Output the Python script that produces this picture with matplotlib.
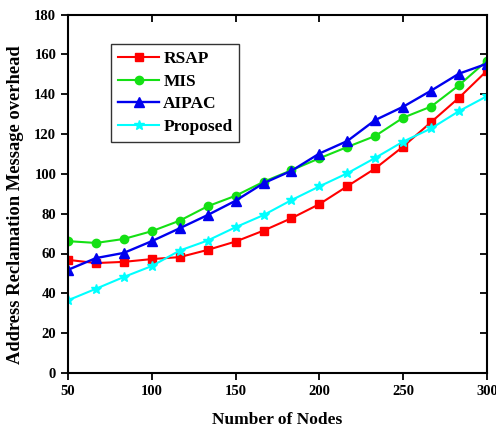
import numpy as np
import matplotlib
matplotlib.use('Agg')
import matplotlib.pyplot as plt

nodes = [50, 66.7, 83.3, 100, 116.7, 133.3, 150, 166.7, 183.3, 200, 216.7, 233.3, 250, 266.7, 283.3, 300]

rsap = [56.8, 55.2, 55.8, 57.2, 58.2, 61.8, 66.0, 71.5, 77.7, 84.8, 93.8, 102.7, 113.7, 126.0, 138.2, 151.8]
mis = [66.2, 65.3, 67.3, 71.2, 76.5, 83.7, 89.0, 96.0, 101.8, 107.8, 113.5, 119.0, 128.2, 133.8, 144.5, 156.8]
aipac = [51.8, 57.7, 60.3, 66.2, 72.7, 79.3, 86.5, 95.3, 101.5, 110.2, 116.5, 127.0, 133.7, 141.8, 150.3, 155.3]
proposed = [36.5, 42.3, 48.2, 53.7, 61.5, 66.5, 73.2, 79.3, 86.8, 93.7, 100.3, 108.0, 116.2, 122.8, 131.5, 139.0]

x_ticks = [50, 100, 150, 200, 250, 300]
y_ticks = [0, 20, 40, 60, 80, 100, 120, 140, 160, 180]

plt.rcParams['font.family'] = ['Liberation Serif', 'DejaVu Serif']
plt.rcParams['font.weight'] = 'bold'

fig = plt.figure(figsize=(4.96, 4.30), dpi=100)
ax1 = fig.add_axes([68 / 496, 1 - 373 / 430, (487 - 68) / 496, (373 - 14.5) / 430])

ax1.plot(nodes, rsap, color='red', marker='s', markersize=5.2, linewidth=1.5, label='RSAP')
ax1.plot(nodes, mis, color='#14e014', marker='o', markersize=6, linewidth=1.5, label='MIS')
ax1.plot(nodes, aipac, color='#0000ee', marker='^', markersize=7, linewidth=1.7, label='AIPAC')
ax1.plot(nodes, proposed, color='cyan', marker='*', markersize=7.5, linewidth=1.5, label='Proposed')

ax1.set_xlim(50, 300)
ax1.set_ylim(0, 180)
ax1.set_xticks(x_ticks)
ax1.set_yticks(y_ticks)

for side in ['left', 'right', 'top', 'bottom']:
    ax1.spines[side].set_linewidth(1.5)

ax1.tick_params(axis='both', which='major', direction='out', length=5, width=1.3, labelsize=10.5)
ax1.tick_params(axis='both', which='major', top=True, right=True)
# top / right ticks point inward
for t in ax1.xaxis.get_major_ticks():
    t.tick2line.set_marker(3)
for t in ax1.yaxis.get_major_ticks():
    t.tick2line.set_marker(0)
for label in ax1.get_xticklabels() + ax1.get_yticklabels():
    label.set_fontweight('bold')

ax1.set_xlabel('Number of Nodes', fontsize=12.5, fontweight='bold')
ax1.set_ylabel('Address Reclamation Message overhead', fontsize=13.3, fontweight='bold')
ax1.xaxis.set_label_coords(0.5, -0.108)
ax1.yaxis.set_label_coords(-0.105, 0.469)

leg = ax1.legend(loc='upper left', bbox_to_anchor=(0.103, 0.918), borderaxespad=0, fancybox=False,
                 edgecolor='black', prop={'weight': 'bold', 'size': 12.5}, handlelength=2.35,
                 handletextpad=0.25, borderpad=0.4, labelspacing=0.38)
leg.get_frame().set_linewidth(1.0)

fig.savefig('out.png', dpi=100)
